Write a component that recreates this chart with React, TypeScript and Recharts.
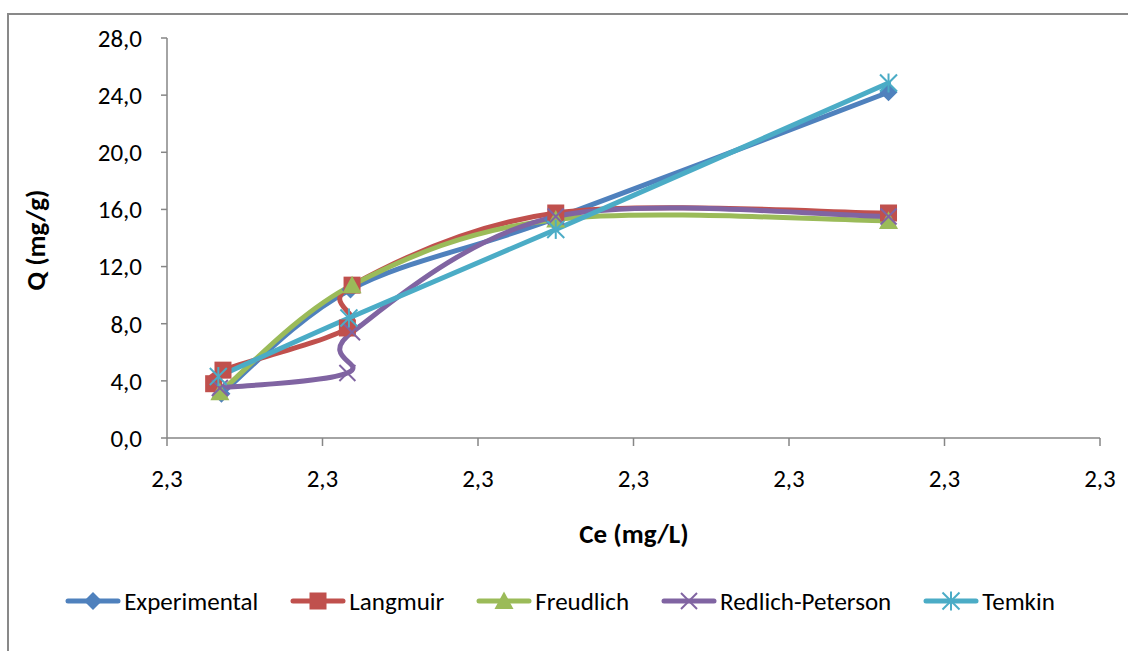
import React from 'react';
import { LineChart, Line, XAxis, YAxis } from 'recharts';

// Axis ticks
const xTicks = [2.3, 2.301, 2.302, 2.303, 2.304, 2.305, 2.306];
const yTicks = [0, 4, 8, 12, 16, 20, 24, 28];

// Equilibrium concentration (Ce, mg/L) and uptake (Q, mg/g) for each series
const experimentalCe = [2.30035, 2.30118, 2.30248, 2.30464];
const experimentalQ = [3.1, 10.4, 15.3, 24.2];

const langmuirCe = [2.3003, 2.30036, 2.30116, 2.30119, 2.3025, 2.30464];
const langmuirQ = [3.8, 4.75, 7.7, 10.7, 15.75, 15.75];

const freudlichCe = [2.30034, 2.30119, 2.3025, 2.30464];
const freudlichQ = [3.2, 10.7, 15.3, 15.2];

const redlichCe = [2.30034, 2.30116, 2.30119, 2.3025, 2.30464];
const redlichQ = [3.5, 4.55, 7.4, 15.5, 15.5];

const temkinCe = [2.30033, 2.30117, 2.3025, 2.30464];
const temkinQ = [4.3, 8.4, 14.6, 24.85];

const zip = (ce: number[], q: number[]) => ce.map((c, i) => ({ ce: c, q: q[i] }));

const FONT = 'Carlito, Calibri, Lato, sans-serif';
const AXIS = '#868686';

// Smoothed line through the points in data order (cardinal / Catmull-Rom style)
function smoothCurve(context: any) {
  let pts: number[][] = [];
  return {
    areaStart() {},
    areaEnd() {},
    lineStart() {
      pts = [];
    },
    point(x: number, y: number) {
      pts.push([+x, +y]);
    },
    lineEnd() {
      const n = pts.length;
      if (!n) return;
      context.moveTo(pts[0][0], pts[0][1]);
      for (let i = 0; i < n - 1; i++) {
        const p0 = pts[Math.max(0, i - 1)];
        const p1 = pts[i];
        const p2 = pts[i + 1];
        const p3 = pts[Math.min(n - 1, i + 2)];
        const c1x = p1[0] + (p2[0] - p0[0]) / 6;
        const c1y = p1[1] + (p2[1] - p0[1]) / 6;
        const c2x = p2[0] - (p3[0] - p1[0]) / 6;
        const c2y = p2[1] - (p3[1] - p1[1]) / 6;
        context.bezierCurveTo(c1x, c1y, c2x, c2y, p2[0], p2[1]);
      }
    },
  };
}

type MarkerKind = 'diamond' | 'square' | 'triangle' | 'x' | 'star';

const Marker = ({ kind, cx, cy, color }: { kind: MarkerKind; cx: number; cy: number; color: string }) => {
  if (kind === 'diamond') {
    const r = 9;
    return <polygon points={`${cx},${cy - r} ${cx + r},${cy} ${cx},${cy + r} ${cx - r},${cy}`} fill={color} />;
  }
  if (kind === 'square') {
    const r = 8.5;
    return <rect x={cx - r} y={cy - r} width={2 * r} height={2 * r} fill={color} />;
  }
  if (kind === 'triangle') {
    const r = 9.5;
    return <polygon points={`${cx},${cy - r} ${cx + r},${cy + r * 0.85} ${cx - r},${cy + r * 0.85}`} fill={color} />;
  }
  if (kind === 'x') {
    const r = 8;
    return (
      <g stroke={color} strokeWidth={2}>
        <line x1={cx - r} y1={cy - r} x2={cx + r} y2={cy + r} />
        <line x1={cx - r} y1={cy + r} x2={cx + r} y2={cy - r} />
      </g>
    );
  }
  const r = 8.5;
  return (
    <g stroke={color} strokeWidth={2}>
      <line x1={cx - r} y1={cy - r} x2={cx + r} y2={cy + r} />
      <line x1={cx - r} y1={cy + r} x2={cx + r} y2={cy - r} />
      <line x1={cx} y1={cy - r - 1} x2={cx} y2={cy + r + 1} />
    </g>
  );
};

const series = [
  { name: 'Experimental', data: zip(experimentalCe, experimentalQ), color: '#4F81BD', kind: 'diamond' as MarkerKind },
  { name: 'Langmuir', data: zip(langmuirCe, langmuirQ), color: '#C0504D', kind: 'square' as MarkerKind },
  { name: 'Freudlich', data: zip(freudlichCe, freudlichQ), color: '#9BBB59', kind: 'triangle' as MarkerKind },
  { name: 'Redlich-Peterson', data: zip(redlichCe, redlichQ), color: '#8064A2', kind: 'x' as MarkerKind },
  { name: 'Temkin', data: zip(temkinCe, temkinQ), color: '#4BACC6', kind: 'star' as MarkerKind },
];

const fmt = (v: number) => v.toFixed(1).replace('.', ',');

export default function App() {
  return (
    <div
      style={{
        position: 'absolute',
        left: 0,
        top: 0,
        width: 1128,
        height: 651,
        overflow: 'hidden',
        background: '#fff',
        fontFamily: FONT,
      }}
    >
      <div
        style={{
          position: 'absolute',
          left: 7,
          top: 13,
          width: 1300,
          height: 800,
          borderTop: '2px solid #898989',
          borderLeft: '2px solid #898989',
        }}
      />
      <div style={{ position: 'absolute', left: 0, top: 0 }}>
        <LineChart width={1128} height={651} margin={{ top: 38, right: 28, bottom: 0, left: 0 }}>
          <XAxis
            type="number"
            dataKey="ce"
            domain={[2.3, 2.306]}
            ticks={xTicks}
            interval={0}
            allowDataOverflow
            tickFormatter={fmt}
            height={213}
            tickSize={8}
            tickMargin={23}
            stroke={AXIS}
            axisLine={{ stroke: AXIS, strokeWidth: 1.5 }}
            tickLine={{ stroke: AXIS, strokeWidth: 1.5 }}
            tick={{ fill: '#000', fontSize: 25, fontFamily: FONT }}
          />
          <YAxis
            type="number"
            dataKey="q"
            domain={[0, 28]}
            ticks={yTicks}
            interval={0}
            allowDataOverflow
            tickFormatter={fmt}
            width={167}
            tickSize={6}
            tickMargin={19}
            stroke={AXIS}
            axisLine={{ stroke: AXIS, strokeWidth: 1.5 }}
            tickLine={{ stroke: AXIS, strokeWidth: 1.5 }}
            tick={{ fill: '#000', fontSize: 25, fontFamily: FONT }}
          />
          {series.map((s) => (
            <Line
              key={s.name}
              name={s.name}
              data={s.data}
              dataKey="q"
              type={smoothCurve as any}
              stroke={s.color}
              strokeWidth={5}
              strokeLinecap="round"
              strokeLinejoin="round"
              isAnimationActive={false}
              activeDot={false}
              dot={(p: any) => (
                <g key={`${s.name}-${p.index}`}>
                  <Marker kind={s.kind} cx={p.cx} cy={p.cy} color={s.color} />
                </g>
              )}
            />
          ))}
        </LineChart>
      </div>

      {/* Axis titles */}
      <div
        style={{
          position: 'absolute',
          left: 35,
          top: 240,
          transform: 'translate(-50%, -50%) rotate(-90deg)',
          fontWeight: 'bold',
          fontSize: 27,
          whiteSpace: 'nowrap',
          color: '#000',
        }}
      >
        Q (mg/g)
      </div>
      <div
        style={{
          position: 'absolute',
          left: 634,
          top: 533,
          transform: 'translate(-50%, -50%)',
          fontWeight: 'bold',
          fontSize: 27,
          whiteSpace: 'nowrap',
          color: '#000',
        }}
      >
        Ce (mg/L)
      </div>

      {/* Legend */}
      <div
        style={{
          position: 'absolute',
          left: 0,
          width: 1120,
          top: 585,
          height: 32,
          display: 'flex',
          justifyContent: 'center',
          alignItems: 'center',
          fontSize: 25,
          color: '#000',
        }}
      >
        {series.map((s, i) => (
          <div
            key={s.name}
            style={{ display: 'flex', alignItems: 'center', marginRight: i === series.length - 1 ? 0 : 32 }}
          >
            <svg width={56} height={24} style={{ display: 'block' }}>
              <line x1={3} y1={12} x2={53} y2={12} stroke={s.color} strokeWidth={5} strokeLinecap="round" />
              <Marker kind={s.kind} cx={28} cy={12} color={s.color} />
            </svg>
            <span style={{ marginLeft: 3, whiteSpace: 'nowrap' }}>{s.name}</span>
          </div>
        ))}
      </div>
    </div>
  );
}
